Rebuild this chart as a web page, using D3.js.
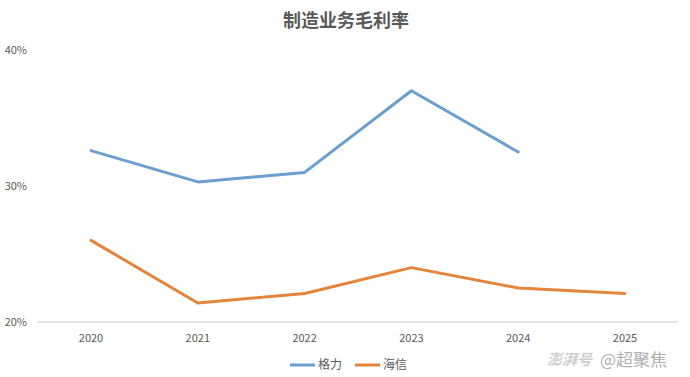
<!DOCTYPE html>
<html><head><meta charset="utf-8">
<script src="https://cdn.jsdelivr.net/npm/d3@7"></script>
<style>body{margin:0;background:#fff;} svg{display:block;font-family:"Noto Sans CJK SC","Noto Sans",sans-serif;}</style>
</head><body><svg id="c" width="690" height="377"></svg>
<script>
const title = "制造业务毛利率";
const years = ["2020","2021","2022","2023","2024","2025"];
const gree = [32.6, 30.3, 31.0, 37.0, 32.5, null];
const hisense = [26.0, 21.4, 22.1, 24.0, 22.5, 22.1];
const seriesNames = ["格力","海信"];
const yTicks = [20, 30, 40];

const svg = d3.select("#c");
const x = d3.scalePoint().domain(years).range([91, 625]);
const y = d3.scaleLinear().domain([20, 40]).range([322, 50]);

svg.append("text").attr("x", 346).attr("y", 27).attr("text-anchor","middle")
  .attr("font-size", 18).attr("font-weight","bold").attr("fill","#595959").text(title);

svg.append("line").attr("x1", 38).attr("x2", 678).attr("y1", y(20)).attr("y2", y(20))
  .attr("stroke","#d9d9d9").attr("stroke-width",1.5);

svg.selectAll(".yl").data(yTicks).enter().append("text")
  .attr("x", 27).attr("y", d => y(d)+4).attr("text-anchor","end")
  .attr("font-size", 11).attr("fill","#595959").text(d => d + "%");

svg.selectAll(".xl").data(years).enter().append("text")
  .attr("x", d => x(d)).attr("y", 342).attr("text-anchor","middle")
  .attr("font-size", 11).attr("fill","#595959").text(d => d);

const colors = ["#6a9fd0", "#e5843b"];
const line = d3.line().defined(d => d.v != null).x(d => x(d.k)).y(d => y(d.v));
[gree, hisense].forEach((arr, i) => {
  svg.append("path").datum(years.map((k, j) => ({k, v: arr[j]})))
    .attr("d", line).attr("fill","none").attr("stroke", colors[i])
    .attr("stroke-width", 3).attr("stroke-linejoin","round").attr("stroke-linecap","round");
});

const lx = [290, 355];
seriesNames.forEach((n, i) => {
  svg.append("line").attr("x1", lx[i]).attr("x2", lx[i]+25).attr("y1", 365).attr("y2", 365)
    .attr("stroke", colors[i]).attr("stroke-width", 3);
  svg.append("text").attr("x", lx[i]+28).attr("y", 369).attr("font-size", 12)
    .attr("fill","#595959").text(n);
});

svg.append("text").attr("x", 547).attr("y", 365).attr("font-size", 15).attr("font-style","italic")
  .attr("font-weight","bold").attr("fill","#cfcfcf").text("澎湃号");
svg.append("text").attr("x", 600).attr("y", 366).attr("font-size", 17)
  .attr("fill","#b0b0b0").text("@超聚焦");
</script></body></html>
